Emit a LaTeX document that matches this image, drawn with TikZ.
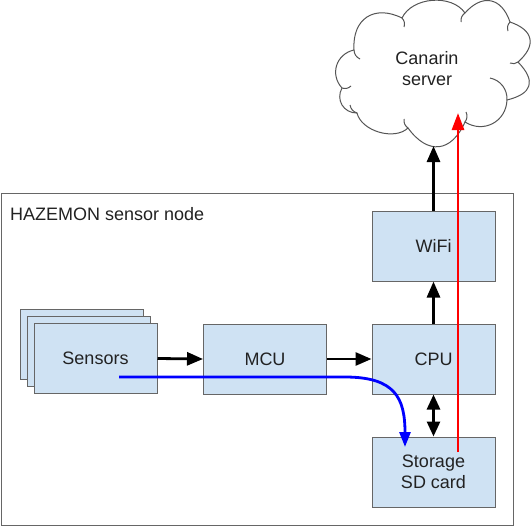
\documentclass[tikz,border=0pt]{standalone}
\usepackage{fontspec}
\setmainfont{Liberation Sans}
\usetikzlibrary{arrows.meta,calc}
\definecolor{boxfill}{HTML}{CFE2F3}
\definecolor{boxdraw}{HTML}{666666}
\definecolor{txt}{HTML}{222222}
\definecolor{cloudline}{HTML}{555555}
\begin{document}
\begin{tikzpicture}[x=1pt,y=-1pt,
  lbl/.style={text=txt, font=\fontsize{18}{21}\selectfont, align=center, inner sep=0pt},
  blk/.style={lbl, draw=boxdraw, fill=boxfill, line width=1pt, minimum width=123pt, minimum height=70pt},
  arr/.style={line width=2.8pt, -{Triangle[length=16pt,width=13pt]}},
  darr/.style={line width=2.8pt, {Triangle[length=15pt,width=13pt]}-{Triangle[length=15pt,width=13pt]}},
  bump/.style={bend left=60, looseness=#1},
  hook/.style={cloudline, line width=1pt}]
\useasboundingbox (0,0) rectangle (532,527);
% outer container
\node[draw=boxdraw, line width=1pt, minimum width=512pt, minimum height=332pt, inner sep=0pt] (hazemon) at (257,359) {};
\node[lbl, anchor=base west] (hlabel) at (10,220) {HAZEMON sensor node};
% cloud
\draw[cloudline, fill=white, line width=1pt]
  (354,50) to[bump=1.38] (402,18) to[bump=0.95] (465,13) to[bump=1.46] (510,22)
  to[bump=1.57] (518,62) to[bump=1.7] (507,100) to[bump=1.18] (465,122)
  to[bump=1.5] (408,128) to[bump=0.9] (357,113) to[bump=1.18] (342,88)
  to[bump=1.18] cycle;
% cloud inner hooks
\draw[hook] (354,50) to[bend right=30] (360,59);
\draw[hook] (402,18) to[bend left=30] (404,27);
\draw[hook] (465,13) to[bend right=30] (461,22);
\draw[hook] (510,22) to[bend right=30] (508,31);
\draw[hook] (518,62) to[bend left=30] (510,63);
\draw[hook] (507,100) to[bend right=40] (490,78);
\draw[hook] (465,122) to[bend right=30] (466,112);
\draw[hook] (408,128) to[bend left=30] (404,119);
\draw[hook] (357,113) to[bend left=30] (350,105);
\draw[hook] (342,88) to[bend right=30] (351,86);
\node[lbl] (cloud) at (427,69) {Canarin\\server};
% boxes
\node[blk] (s3) at (81.5,344.5) {};
\node[blk] (s2) at (88.5,351.5) {};
\node[blk] (sensors) at (95.5,358.5) {Sensors};
\node[blk] (mcu) at (265,359) {MCU};
\node[blk] (cpu) at (433.5,359) {CPU};
\node[blk] (wifi) at (433.5,246) {WiFi};
\node[blk] (storage) at (433.5,472) {Storage\\SD card};
% coordinates
\coordinate (cloudb) at (433.5,146);
\coordinate (redstart) at (458,452);
\coordinate (redend) at (458,113);
\coordinate (bstart) at (119,377);
\coordinate (bend) at (405,447);
% arrows
\draw[arr] (sensors.east) -- (mcu.west);
\draw[arr] (mcu.east) -- (cpu.west);
\draw[arr] (cpu.north) -- (wifi.south);
\draw[arr] (wifi.north) -- (cloudb);
\draw[darr] (cpu.south) -- (storage.north);
\draw[red, line width=2.8pt, -{Triangle[length=17pt,width=12pt]}] (redstart) -- (redend);
\draw[blue, line width=2.8pt, -{Triangle[length=15pt,width=11pt]}] (bstart) -- (345,377) .. controls (395,377) and (405,398) .. (bend);
\end{tikzpicture}
\end{document}
